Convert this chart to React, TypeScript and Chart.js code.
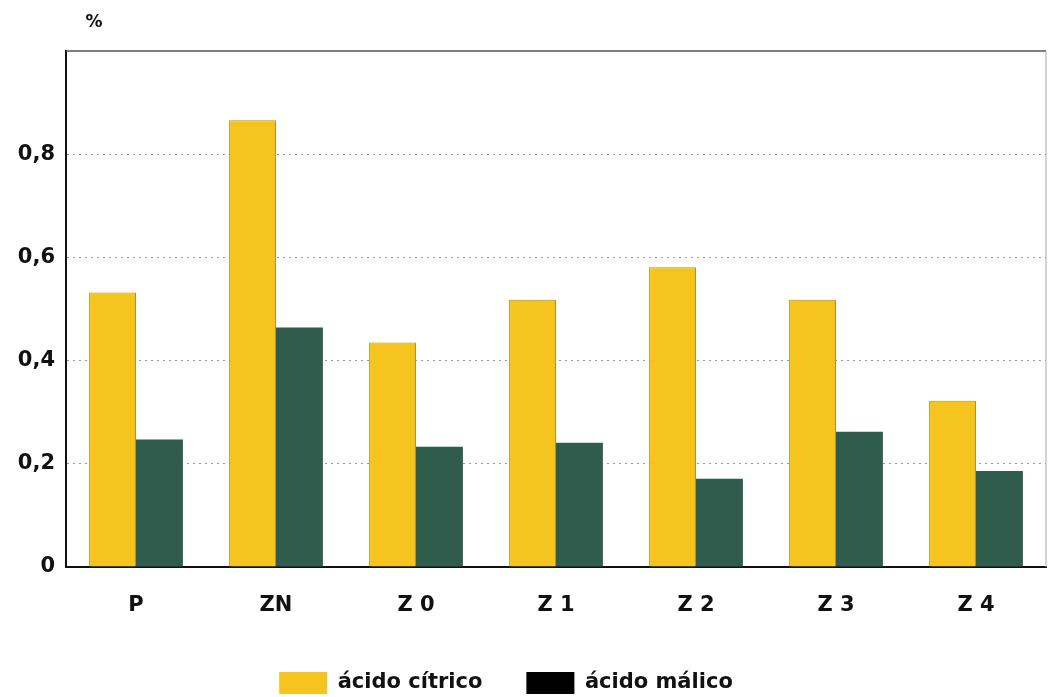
import React, { useEffect, useRef } from "react";
import { Chart, registerables } from "chart.js";

Chart.register(...registerables);

const categories = ["P", "ZN", "Z 0", "Z 1", "Z 2", "Z 3", "Z 4"];
const citrico = [0.532, 0.866, 0.435, 0.518, 0.581, 0.518, 0.322];
const malico = [0.247, 0.464, 0.233, 0.241, 0.171, 0.262, 0.186];
const yTicks = [0, 0.2, 0.4, 0.6, 0.8];
const seriesNames = ["ácido cítrico", "ácido málico"];

const FONT = "'DejaVu Sans', 'Liberation Sans', Arial, sans-serif";

export default function App() {
  const ref = useRef<HTMLCanvasElement | null>(null);

  useEffect(() => {
    document.body.style.margin = "0";
    const canvas = ref.current;
    if (!canvas) return;

    const framePlugin = {
      id: "frame",
      afterLayout(chart: any) {
        const lg = chart.legend;
        if (lg && !lg._shifted) {
          const dx = -17;
          lg.left += dx;
          lg.right += dx;
          (lg.legendHitBoxes || []).forEach((h: any) => {
            h.left += dx;
          });
          lg._shifted = true;
        }
      },
      afterDraw(chart: any) {
        const { ctx, chartArea } = chart;
        ctx.save();
        ctx.strokeStyle = "#555";
        ctx.lineWidth = 1.5;
        ctx.beginPath();
        ctx.moveTo(chartArea.left, chartArea.top);
        ctx.lineTo(chartArea.right, chartArea.top);
        ctx.stroke();
        ctx.strokeStyle = "#aaa";
        ctx.lineWidth = 1;
        ctx.beginPath();
        ctx.moveTo(chartArea.right, chartArea.top);
        ctx.lineTo(chartArea.right, chartArea.bottom);
        ctx.stroke();
        ctx.fillStyle = "#111";
        ctx.font = `bold 17px ${FONT}`;
        ctx.textAlign = "center";
        ctx.textBaseline = "middle";
        ctx.fillText("%", chartArea.left + 28, 23);
        ctx.restore();
      },
    };

    const chart = new Chart(canvas, {
      type: "bar",
      data: {
        labels: categories,
        datasets: [
          {
            label: seriesNames[0],
            data: citrico,
            backgroundColor: "#F6C41E",
            borderColor: "#B8901A",
            borderWidth: 1,
            categoryPercentage: 0.67,
            barPercentage: 1.0,
          },
          {
            label: seriesNames[1],
            data: malico,
            backgroundColor: "#2F5C4D",
            borderColor: "#2F5C4D",
            borderWidth: 0,
            categoryPercentage: 0.67,
            barPercentage: 1.0,
          },
        ],
      },
      options: {
        animation: false,
        responsive: false,
        maintainAspectRatio: false,
        layout: { padding: { top: 51, right: 3, left: 0, bottom: -7 } },
        plugins: {
          tooltip: { enabled: false },
          legend: {
            position: "bottom",
            labels: {
              boxWidth: 48,
              boxHeight: 22,
              padding: 44,
              color: "#111",
              font: { family: FONT, size: 21, weight: "bold" },
              generateLabels: () =>
                seriesNames.map((n, i) => ({
                  text: n,
                  fillStyle: i === 0 ? "#F6C41E" : "#000",
                  strokeStyle: i === 0 ? "#E0B020" : "#000",
                  lineWidth: 0,
                  datasetIndex: i,
                  hidden: false,
                  fontColor: "#111",
                })),
            },
          },
        },
        scales: {
          x: {
            afterFit: (s: any) => {
              s.height = 61;
            },
            grid: { display: false },
            border: { display: true, color: "#111", width: 2 },
            ticks: {
              color: "#111",
              padding: 18,
              font: { family: FONT, size: 21, weight: "bold" },
            },
          },
          y: {
            min: 0,
            max: 1.0,
            afterFit: (s: any) => {
              s.width = 66;
            },
            afterBuildTicks: (s: any) => {
              s.ticks = [...yTicks, 1.0].map((v) => ({ value: v }));
            },
            grid: {
              color: (ctx: any) =>
                ctx.tick && (ctx.tick.value === 0 || ctx.tick.value >= 0.99)
                  ? "rgba(0,0,0,0)"
                  : "#9a9a9a",
              lineWidth: 1,
              drawTicks: false,
            },
            border: { display: true, color: "#111", width: 2, dash: [2, 4] },
            ticks: {
              color: "#111",
              padding: 11,
              font: { family: FONT, size: 21, weight: "bold" },
              callback: (v: any) => {
                const n = Number(v);
                if (n >= 0.99) return "";
                if (n === 0) return "0";
                return n.toFixed(1).replace(".", ",");
              },
            },
          },
        },
      },
      plugins: [framePlugin],
    } as any);

    return () => chart.destroy();
  }, []);

  return (
    <div style={{ position: "fixed", left: 0, top: 0, width: 1049, height: 697, background: "#fff" }}>
      <canvas ref={ref} width={1049} height={697} style={{ width: 1049, height: 697 }} />
    </div>
  );
}
